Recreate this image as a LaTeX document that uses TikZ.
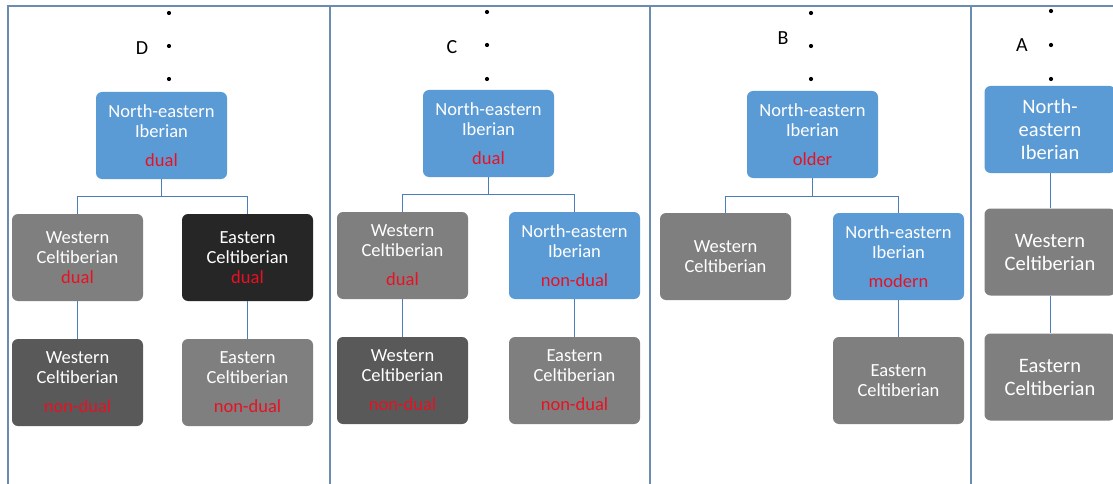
\documentclass[tikz,border=0pt]{standalone}
\usepackage{fontspec}
\newfontfamily\carlito{Carlito}
\usetikzlibrary{calc}
\definecolor{nblue}{HTML}{5B9BD5}
\definecolor{gmid}{HTML}{7F7F7F}
\definecolor{gdark}{HTML}{595959}
\definecolor{gblack}{HTML}{262626}
\definecolor{tred}{RGB}{232,17,35}
\definecolor{frame}{HTML}{6A8CB0}
\definecolor{conn}{HTML}{4A7EBB}
\newcommand{\rd}[1]{\textcolor{tred}{#1}}
\tikzset{
  box/.style={rounded corners=6pt, minimum width=131pt, minimum height=87pt, inner sep=0pt,
    align=center, text=white, font=\carlito\fontsize{18.5}{20}\selectfont},
  boxA/.style={box, font=\carlito\fontsize{20.5}{23}\selectfont},
  conline/.style={draw=conn, line width=0.9pt},
  frameline/.style={draw=frame, line width=1.2pt},
  lab/.style={font=\carlito\fontsize{20}{22}\selectfont, text=black, inner sep=0pt},
  dot/.style={circle, fill=black, inner sep=0pt, minimum size=4.2pt},
}
\begin{document}
\begin{tikzpicture}[x=1pt,y=-1pt]
\useasboundingbox (0,0) rectangle (1113,484);
\fill[white] (0,0) rectangle (1113,484);
% frames
\draw[frameline] (8,490) -- (8,6) -- (1120,6);
\draw[frameline] (330,6) -- (330,490);
\draw[frameline] (650,6) -- (650,490);
\draw[frameline] (971,6) -- (971,490);

% ---------- Panel D ----------
\node[dot] (dd1) at (169,13) {};
\node[dot] (dd2) at (169,46) {};
\node[dot] (dd3) at (169,79) {};
\node[lab] (dl) at (142,48) {D};
\node[box, fill=nblue] (d0) at (161.5,135.5) {North-eastern\\Iberian\\[9pt]\rd{dual}};
\node[box, fill=gmid] (d1) at (77.5,257.5) {Western\\Celtiberian\\\rd{dual}};
\node[box, fill=gblack] (d2) at (247.5,257.5) {Eastern\\Celtiberian\\\rd{dual}};
\node[box, fill=gdark] (d3) at (77.5,382.5) {Western\\Celtiberian\\[9pt]\rd{non-dual}};
\node[box, fill=gmid] (d4) at (247.5,382.5) {Eastern\\Celtiberian\\[9pt]\rd{non-dual}};
\coordinate (dj) at (161.5,196);
\draw[conline] (d0.south) -- (dj) -| (d1.north);
\draw[conline] (dj) -| (d2.north);
\draw[conline] (d1.south) -- (d3.north);
\draw[conline] (d2.south) -- (d4.north);

% ---------- Panel C ----------
\node[dot] (cd1) at (487,12) {};
\node[dot] (cd2) at (487,45) {};
\node[dot] (cd3) at (487,79) {};
\node[lab] (cl) at (452,47) {C};
\node[box, fill=nblue] (c0) at (488.5,133.5) {North-eastern\\Iberian\\[9pt]\rd{dual}};
\node[box, fill=gmid] (c1) at (402.5,255.5) {Western\\Celtiberian\\[9pt]\rd{dual}};
\node[box, fill=nblue] (c2) at (574.5,255.5) {North-eastern\\Iberian\\[9pt]\rd{non-dual}};
\node[box, fill=gdark] (c3) at (402.5,380.5) {Western\\Celtiberian\\[9pt]\rd{non-dual}};
\node[box, fill=gmid] (c4) at (574.5,380.5) {Eastern\\Celtiberian\\[9pt]\rd{non-dual}};
\coordinate (cj) at (488.5,194);
\draw[conline] (c0.south) -- (cj) -| (c1.north);
\draw[conline] (cj) -| (c2.north);
\draw[conline] (c1.south) -- (c3.north);
\draw[conline] (c2.south) -- (c4.north);

% ---------- Panel B ----------
\node[dot] (bd1) at (811,13) {};
\node[dot] (bd2) at (811,46) {};
\node[dot] (bd3) at (811,79) {};
\node[lab] (bl) at (783,38) {B};
\node[box, fill=nblue] (b0) at (812.5,134.5) {North-eastern\\Iberian\\[9pt]\rd{older}};
\node[box, fill=gmid] (b1) at (725.5,256.5) {Western\\Celtiberian};
\node[box, fill=nblue] (b2) at (898.5,256.5) {North-eastern\\Iberian\\[9pt]\rd{modern}};
\node[box, fill=gmid] (b3) at (898.5,380.5) {Eastern\\Celtiberian};
\coordinate (bj) at (812.5,196);
\draw[conline] (b0.south) -- (bj) -| (b1.north);
\draw[conline] (bj) -| (b2.north);
\draw[conline] (b2.south) -- (b3.north);

% ---------- Panel A ----------
\node[dot] (ad1) at (1051,11) {};
\node[dot] (ad2) at (1051,45) {};
\node[dot] (ad3) at (1051,79) {};
\node[lab] (al) at (1022,45) {A};
\node[boxA, fill=nblue] (a0) at (1050,129.5) {North-\\eastern\\Iberian};
\node[boxA, fill=gmid] (a1) at (1050,252) {Western\\Celtiberian};
\node[boxA, fill=gmid] (a2) at (1050,377) {Eastern\\Celtiberian};
\draw[conline] (a0.south) -- (a1.north);
\draw[conline] (a1.south) -- (a2.north);
\end{tikzpicture}
\end{document}
